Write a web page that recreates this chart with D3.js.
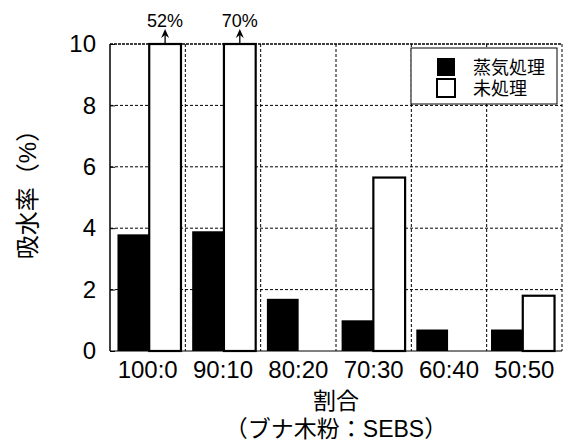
<!DOCTYPE html>
<html>
<head>
<meta charset="utf-8">
<script src="https://cdn.jsdelivr.net/npm/d3@7"></script>
<style>
  html, body { margin: 0; padding: 0; background: #fff; }
  svg { display: block; }
  text { font-family: "Liberation Sans", Arial, "Noto Sans CJK JP", sans-serif; fill: #000; }
</style>
</head>
<body>
<svg id="chart" width="567" height="441"></svg>
<script>
// Blend ratios (beech wood flour : SEBS)
const categories = ["100:0", "90:10", "80:20", "70:30", "60:40", "50:50"];
// Water absorption (%) per treatment
const steamed = [3.8, 3.9, 1.7, 1.0, 0.7, 0.7];
const untreated = [52, 70, 0, 5.65, 0, 1.8];
const seriesNames = ["蒸気処理", "未処理"];
const yTicks = [0, 2, 4, 6, 8, 10];

const svg = d3.select("#chart");
const margin = { left: 110, right: 5, top: 44, bottom: 90 };
const W = 567, H = 441;
const plotW = W - margin.left - margin.right;
const plotH = H - margin.top - margin.bottom;

const g = svg.append("g").attr("transform", `translate(${margin.left},${margin.top})`);

const x = d3.scaleBand().domain(categories).range([0, plotW]).paddingInner(0.15).paddingOuter(0.1).align(0.5);
const xGroup = d3.scaleBand().domain(categories).range([0, plotW]);
const sub = d3.scaleBand().domain(["steamed", "untreated"]).range([0, x.bandwidth()]);
const y = d3.scaleLinear().domain([0, 10]).range([plotH, 0]).clamp(true);

// dashed grid
g.append("g").selectAll("line").data(yTicks.slice(1, -1)).join("line")
  .attr("x1", 0).attr("x2", plotW)
  .attr("y1", d => y(d)).attr("y2", d => y(d))
  .attr("stroke", "#000").attr("stroke-width", 1).attr("stroke-dasharray", "3,2");
g.append("g").selectAll("line").data(categories.slice(1)).join("line")
  .attr("x1", d => xGroup(d)).attr("x2", d => xGroup(d))
  .attr("y1", 0).attr("y2", plotH)
  .attr("stroke", "#000").attr("stroke-width", 1).attr("stroke-dasharray", "3,2");

// frame: top and right edges
g.append("line").attr("x1", 0).attr("x2", plotW).attr("y1", 0).attr("y2", 0)
  .attr("stroke", "#000").attr("stroke-width", 1.5).attr("stroke-dasharray", "3,1");
g.append("line").attr("x1", plotW).attr("x2", plotW).attr("y1", 0).attr("y2", plotH)
  .attr("stroke", "#000").attr("stroke-width", 1).attr("stroke-dasharray", "3,2");

const data = categories.map((c, i) => ({ cat: c, steamed: steamed[i], untreated: untreated[i] }));

// steamed bars (black)
g.append("g").selectAll("rect").data(data).join("rect")
  .attr("x", d => x(d.cat) + sub("steamed"))
  .attr("y", d => y(d.steamed))
  .attr("width", sub.bandwidth())
  .attr("height", d => plotH - y(d.steamed))
  .attr("fill", "#000");

// untreated bars (white, outlined)
g.append("g").selectAll("rect").data(data.filter(d => d.untreated > 0)).join("rect")
  .attr("x", d => x(d.cat) + sub("untreated"))
  .attr("y", d => y(d.untreated))
  .attr("width", sub.bandwidth())
  .attr("height", d => plotH - y(d.untreated))
  .attr("fill", "#fff").attr("stroke", "#000").attr("stroke-width", 2.2);

// off-scale bars: arrow and value
const over = data.filter(d => d.untreated > 10);
const ax = d => x(d.cat) + sub("untreated") + sub.bandwidth() / 2;
g.append("g").selectAll("line").data(over).join("line")
  .attr("x1", ax).attr("x2", ax).attr("y1", y(10)).attr("y2", y(10) - 12)
  .attr("stroke", "#000").attr("stroke-width", 1.3);
g.append("g").selectAll("path").data(over).join("path")
  .attr("d", d => `M${ax(d)},${y(10) - 15} L${ax(d) - 4},${y(10) - 6} L${ax(d)},${y(10) - 9} L${ax(d) + 4},${y(10) - 6} Z`)
  .attr("fill", "#000");
g.append("g").selectAll("text").data(over).join("text")
  .attr("x", ax).attr("y", y(10) - 17)
  .attr("text-anchor", "middle").attr("font-size", 18)
  .text(d => d.untreated + "%");

// axes
g.append("line").attr("x1", 0).attr("x2", 0).attr("y1", 0).attr("y2", plotH).attr("stroke", "#000").attr("stroke-width", 1.5);
g.append("line").attr("x1", 0).attr("x2", plotW).attr("y1", plotH).attr("y2", plotH).attr("stroke", "#000").attr("stroke-width", 1);

const yAxis = g.append("g").call(d3.axisLeft(y).tickValues(yTicks).tickSize(-5).tickPadding(14).tickFormat(d3.format("d")));
yAxis.select(".domain").remove();
yAxis.selectAll("text").attr("font-size", 24);

const xAxis = g.append("g").attr("transform", `translate(0,${plotH})`)
  .call(d3.axisBottom(xGroup).tickSize(0).tickPadding(9));
xAxis.select(".domain").remove();
xAxis.selectAll("text").attr("font-size", 24).attr("dy", "0.75em");

// axis titles
svg.append("text")
  .attr("x", margin.left + plotW / 2).attr("y", 409)
  .attr("text-anchor", "middle").attr("font-size", 23).text("割合");
svg.append("text")
  .attr("x", margin.left + plotW / 2).attr("y", 437)
  .attr("text-anchor", "middle").attr("font-size", 23).text("（ブナ木粉：SEBS）");
svg.append("text")
  .attr("transform", `translate(36,${margin.top + plotH / 2 - 9}) rotate(-90)`)
  .attr("text-anchor", "middle").attr("font-size", 24).text("吸水率（%）");

// legend
const lg = svg.append("g").attr("transform", "translate(411,48)");
lg.append("rect").attr("width", 146).attr("height", 56).attr("fill", "#fff").attr("stroke", "#000").attr("stroke-width", 1);
const items = lg.selectAll("g").data(seriesNames).join("g")
  .attr("transform", (d, i) => `translate(26,${10 + i * 21})`);
items.append("rect").attr("width", 18).attr("height", 18)
  .attr("fill", (d, i) => i === 0 ? "#000" : "#fff")
  .attr("stroke", "#000").attr("stroke-width", (d, i) => i === 0 ? 0 : 2);
items.append("text").attr("x", 36).attr("y", 10).attr("dy", "0.35em")
  .attr("font-size", 18).text(d => d);
</script>
</body>
</html>
